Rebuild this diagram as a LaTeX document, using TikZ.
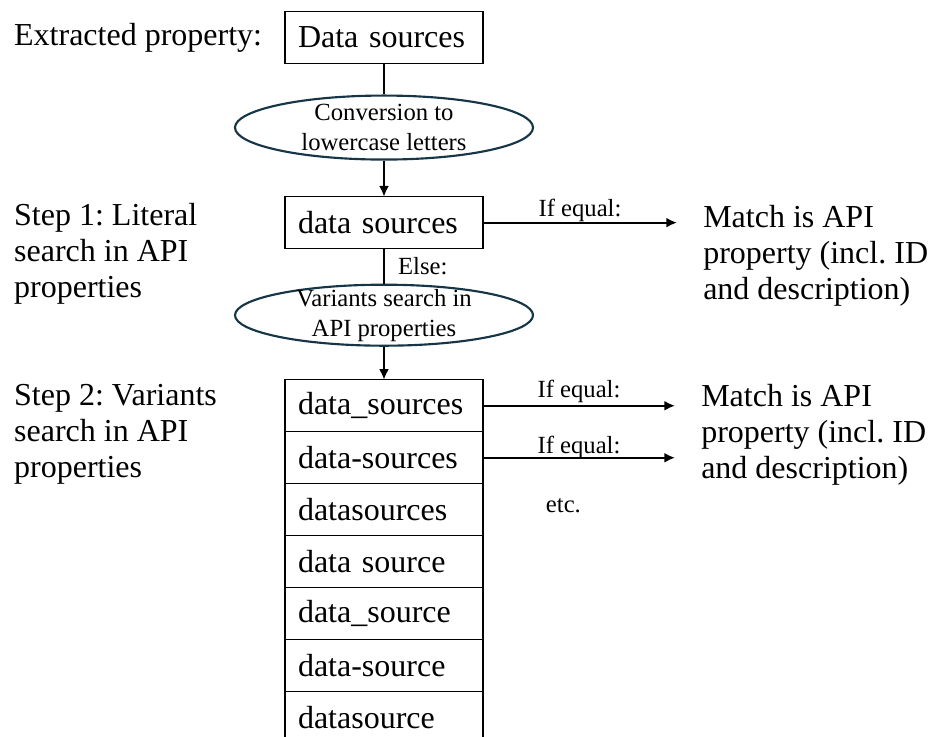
\documentclass[tikz,border=0pt]{standalone}
\usepackage{fontspec}
\setmainfont{Liberation Serif}
\usepackage{tikz}
\usetikzlibrary{shapes.geometric, arrows.meta}
\usetikzlibrary{positioning,calc}
\definecolor{ellipseBlue}{RGB}{22,54,72}
\frenchspacing

\begin{document}
\begin{tikzpicture}[node distance=25pt]
	%defines
	\tikzstyle{propertyBox} = [rectangle, draw=black, line width=0.8pt, outer sep=0pt, minimum height=39pt, text width=129pt, inner xsep=9.75pt, inner ysep=0pt, align=left, font=\fontsize{24}{27}\selectfont]
	\tikzstyle{searchStep} = [ellipse, draw=ellipseBlue, line width=1.6pt, minimum width=223.5pt, minimum height=48pt, inner sep=0pt]
	\tikzstyle{stepText} = [inner sep=0pt, align=center, font=\fontsize{18.5}{22.5}\selectfont]
	\tikzstyle{sideText} = [inner sep=0pt, align=left, font=\fontsize{24}{27}\selectfont]
	\tikzstyle{smallText} = [inner sep=0pt, font=\fontsize{18.5}{22.5}\selectfont]
	\tikzstyle{line} = [line width=1.6pt]
	\tikzstyle{arrow} = [line width=1.6pt,-{Latex[length=8pt,width=7.5pt]}]
	%page
	\useasboundingbox (0,0) rectangle (700.5pt,-552.75pt);
	%chart
	\node (dataSources) [propertyBox] at (288pt,-28.125pt) {Data sources};
	\node (convert) [searchStep, below=23.25pt of dataSources] {};
	\node (convertText) [stepText] at (convert) {Conversion to\\lowercase letters};
	\node (lowercase) [propertyBox, below=27pt of convert] {data sources};
	\node (variants) [searchStep, minimum height=45.75pt, below=26.25pt of lowercase] {};
	\node (variantsText) [stepText] at (variants) {Variants search in\\API properties};
	\node (rowOne) [propertyBox, below=24.75pt of variants] {data\_sources};
	\node (rowTwo) [propertyBox, below=0pt of rowOne] {data-sources};
	\node (rowThree) [propertyBox, below=0pt of rowTwo] {datasources};
	\node (rowFour) [propertyBox, below=0pt of rowThree] {data source};
	\node (rowFive) [propertyBox, below=0pt of rowFour] {data\_source};
	\node (rowSix) [propertyBox, below=0pt of rowFive] {data-source};
	\node (rowSeven) [propertyBox, below=0pt of rowSix] {datasource};
	%arrow ends
	\coordinate [right=145.5pt of lowercase] (hitOne);
	\coordinate [right=144pt of rowOne] (hitTwo);
	\coordinate [right=144pt of rowTwo] (hitThree);
	%side texts
	\node (extracted) [sideText, left=17pt of dataSources] {Extracted property:};
	\node (stepOne) [sideText, anchor=west, yshift=-23.5pt] at (extracted.west |- lowercase) {Step 1: Literal\\search in API\\properties};
	\node (stepTwo) [sideText, anchor=west, yshift=-21.5pt] at (extracted.west |- rowOne) {Step 2: Variants\\search in API\\properties};
	\node (matchOne) [sideText, anchor=west, xshift=19.5pt, yshift=-25pt] at (hitOne) {Match is API\\property (incl. ID\\and description)};
	\node (matchTwo) [sideText, anchor=west, xshift=19.5pt, yshift=-21.5pt] at (hitTwo) {Match is API\\property (incl. ID\\and description)};
	\node (etc) [smallText, right=47pt of rowThree, yshift=3pt] {etc.};
	%connectors
	\draw [line] (dataSources) -- (convert);
	\draw [arrow] (convert) -- (lowercase);
	\draw [line] (lowercase) -- node (elseLabel) [smallText, right=9.75pt] {Else:} (variants);
	\draw [arrow] (variants) -- (rowOne);
	\draw [arrow] (lowercase) -- node (equalOne) [smallText, above] {If equal:} (hitOne);
	\draw [arrow] (rowOne) -- node (equalTwo) [smallText, above, yshift=1.5pt] {If equal:} (hitTwo);
	\draw [arrow] (rowTwo) -- node (equalThree) [smallText, above, yshift=-1.5pt] {If equal:} (hitThree);
\end{tikzpicture}
\end{document}
